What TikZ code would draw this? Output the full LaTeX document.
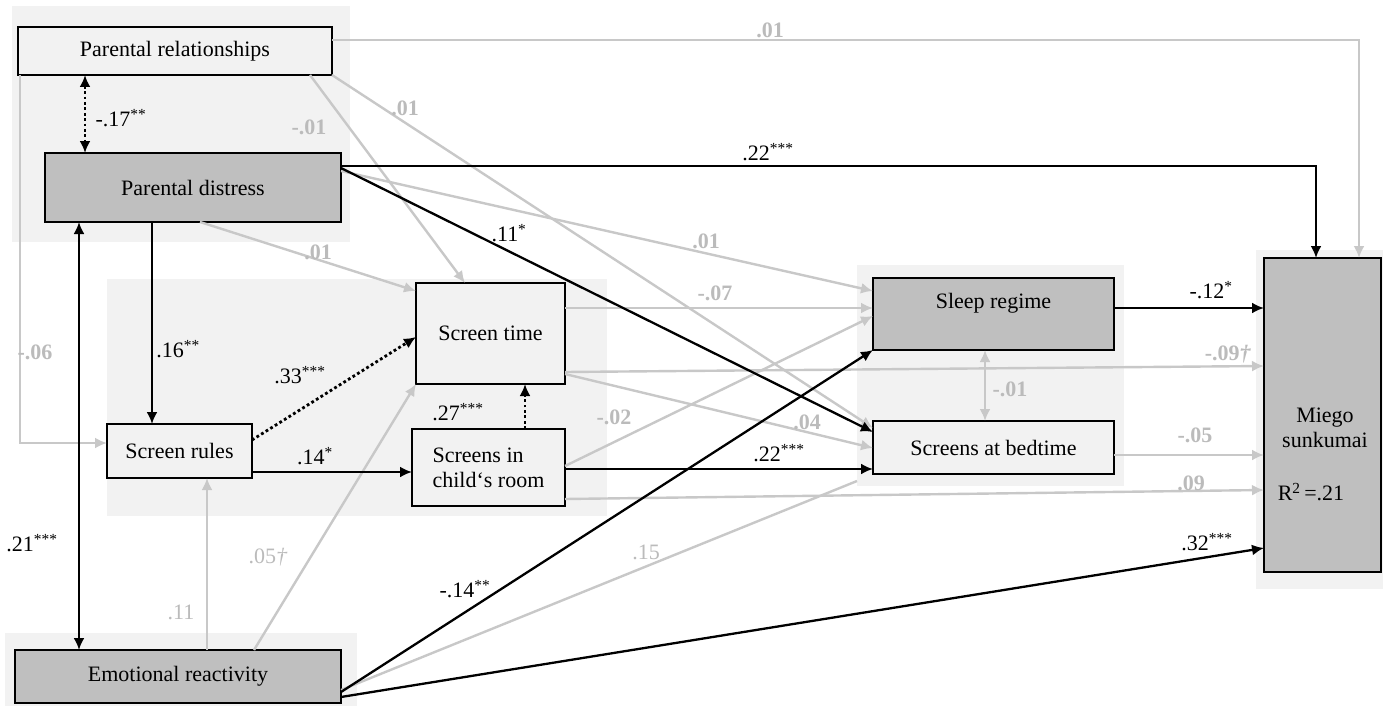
\documentclass[tikz,border=0pt]{standalone}
\usepackage{fontspec}
\setmainfont{Liberation Serif}
\usetikzlibrary{arrows.meta,calc}

\definecolor{panel}{HTML}{F2F2F2}
\definecolor{boxlight}{HTML}{F2F2F2}
\definecolor{boxdark}{HTML}{BFBFBF}
\definecolor{edgegray}{HTML}{C8C8C8}
\definecolor{labgray}{HTML}{BBBBBB}
\newcommand\sig[1]{\textsuperscript{#1}}

\begin{document}
\begin{tikzpicture}[x=1pt,y=-1pt,
  >={Latex[length=12pt,width=11pt]},
  panelbox/.style={fill=panel,draw=none,inner sep=0pt,outer sep=0pt,anchor=north west},
  box/.style={draw=black,line width=1.6pt,inner sep=0pt,outer sep=0pt,anchor=north west,
              font=\fontsize{22}{25}\selectfont},
  light/.style={box,fill=boxlight},
  dark/.style={box,fill=boxdark},
  txt/.style={inner sep=0pt,font=\fontsize{22}{25}\selectfont},
  blk/.style={draw=black,line width=2.3pt},
  blkdot/.style={draw=black,line width=2.8pt,dash pattern=on 2.8pt off 2.6pt},
  gry/.style={draw=edgegray,line width=2.4pt},
  lab/.style={inner sep=0pt,font=\fontsize{22}{25}\selectfont},
  glab/.style={lab,text=labgray,font=\fontsize{22}{25}\selectfont\bfseries},
  glabl/.style={lab,text=labgray}]

\useasboundingbox (0,0) rectangle (1383,706);
\fill[white] (0,0) rectangle (1383,706);

% background groups
\node[panelbox,minimum width=338,minimum height=236] (P1) at (12,6) {};
\node[panelbox,minimum width=500,minimum height=237] (P2) at (107,279) {};
\node[panelbox,minimum width=267,minimum height=221] (P3) at (857,265) {};
\node[panelbox,minimum width=127,minimum height=339] (P4) at (1256,250) {};
\node[panelbox,minimum width=352,minimum height=73] (P5) at (5,633) {};

% variables
\node[light,minimum width=314,minimum height=48] (PR) at (18,27) {Parental relationships};
\node[dark,minimum width=296,minimum height=69] (PD) at (45,153) {Parental distress};
\node[light,minimum width=145,minimum height=54] (SR) at (107,424) {Screen rules};
\node[light,minimum width=149,minimum height=101] (ST) at (416,283) {Screen time};
\node[light,minimum width=153,minimum height=77,align=left] (SC) at (412,429) {Screens in\\child‘s room};
\node[dark,minimum width=241,minimum height=72] (SL) at (873,278) {};
\node[txt] (SLt) at (993.5,303) {Sleep regime};
\node[light,minimum width=241,minimum height=53] (SB) at (873,421) {Screens at bedtime};
\node[dark,minimum width=117,minimum height=314] (MS) at (1264,258) {};
\node[txt,align=center] (MSt) at (1325,428) {Miego\\sunkumai};
\node[txt] (R2) at (1311,492) {R\textsuperscript{2}\,=.21};
\node[dark,minimum width=326,minimum height=53] (ER) at (15,650) {Emotional reactivity};

% non-significant paths
\draw[gry,->] (PR.east |- 0,40) -| (MS.north -| 1359,0);
\draw[gry,->] (PR.south -| 20,0) |- (SR.west |- 0,443);
\draw[gry,->] (PR.south -| 310,0) -- (ST.north -| 465,0);
\draw[gry,->] (PR.south east) -- (SB.west |- 0,428);
\draw[gry,->] (PD.south -| 200,0) -- (ST.west |- 0,291);
\draw[gry,->] (PD.east |- 0,171) -- (SL.west |- 0,291);
\draw[gry,->] (ST.east |- 0,308) -- (SL.west |- 0,308);
\draw[gry,->] (ST.east |- 0,372) -- (MS.west |- 0,366);
\draw[gry,->] (ST.east |- 0,374) -- (SB.west |- 0,448);
\draw[gry,->] (SC.east |- 0,466) -- (SL.west |- 0,316);
\draw[gry,->] (SC.east |- 0,499) -- (MS.west |- 0,490);
\draw[gry,->] (SB.east |- 0,455) -- (MS.west |- 0,455);
\draw[gry,<->] (SL.south -| 985,0) -- (SB.north -| 985,0);
\draw[gry,->] (ER.north -| 207,0) -- (SR.south -| 207,0);
\draw[gry,->] (ER.north -| 254,0) -- (ST.south west);
\coordinate (P3c) at (P3.west |- 0,481);
\draw[gry] (ER.east |- 0,690) -- (P3c);

% significant paths
\draw[blkdot,<->] (PR.south -| 85,0) -- (PD.north -| 85,0);
\draw[blk,<->] (PD.south -| 79,0) -- (ER.north -| 79,0);
\draw[blk,->] (PD.south -| 152,0) -- (SR.north -| 152,0);
\draw[blk,->] (PD.east |- 0,166) -| (MS.north -| 1316,0);
\draw[blk,->] (PD.east |- 0,168) -- (SB.west |- 0,432);
\draw[blkdot,->] (SR.east |- 0,440) -- (ST.west |- 0,337);
\draw[blk,->] (SR.east |- 0,472) -- (SC.west |- 0,472);
\draw[blkdot,->] (SC.north -| 525,0) -- (ST.south -| 525,0);
\draw[blk,->] (SC.east |- 0,469) -- (SB.west |- 0,469);
\draw[blk,->] (ER.east |- 0,692) -- (SL.south west);
\draw[blk,->] (ER.east |- 0,697) -- (MS.west |- 0,548);
\draw[blk,->] (SL.east |- 0,308) -- (MS.west |- 0,308);

% coefficients
\node[lab] (l1) at (121,118) {-.17\sig{**}};
\node[lab] (l2) at (768,152) {.22\sig{***}};
\node[lab] (l3) at (509,233) {.11\sig{*}};
\node[lab] (l4) at (178,349) {.16\sig{**}};
\node[lab] (l5) at (300,375) {.33\sig{***}};
\node[lab] (l6) at (315,456) {.14\sig{*}};
\node[lab] (l7) at (458,412) {.27\sig{***}};
\node[lab] (l8) at (779,453) {.22\sig{***}};
\node[lab] (l9) at (1211,290) {-.12\sig{*}};
\node[lab] (l10) at (1207,542) {.32\sig{***}};
\node[lab] (l11) at (465,589) {-.14\sig{**}};
\node[lab] (l12) at (32,543) {.21\sig{***}};

\node[glab] (g1) at (770,30) {.01};
\node[glab] (g2) at (309,127) {-.01};
\node[glab] (g3) at (405,108) {.01};
\node[glab] (g4) at (318,252) {.01};
\node[glab] (g5) at (706,241) {.01};
\node[glab] (g6) at (35,352) {-.06};
\node[glab] (g7) at (715,293) {-.07};
\node[glab] (g8) at (614,417) {-.02};
\node[glab] (g9) at (807,422) {.04};
\node[glab] (g10) at (1228,354) {-.09\textit{†}};
\node[glab] (g11) at (1010,389) {-.01};
\node[glab] (g12) at (1195,435) {-.05};
\node[glab] (g13) at (1191,483) {.09};
\node[glabl] (g14) at (181,612) {.11};
\node[glabl] (g15) at (268,557) {.05\textit{†}};
\node[glabl] (g16) at (646,552) {.15};

\end{tikzpicture}
\end{document}
